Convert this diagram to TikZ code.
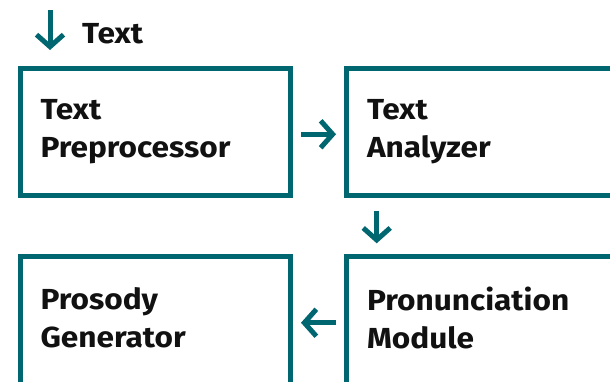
\documentclass[tikz,border=0pt]{standalone}
\usepackage{fontspec}
\setmainfont[FakeStretch=1.09]{Fira Sans}
\usetikzlibrary{arrows.meta,calc}
\definecolor{teal}{HTML}{006670}
\definecolor{ink}{HTML}{111111}
\tikzset{
  box/.style={draw=teal, line width=5pt, line join=miter, rectangle, anchor=north west,
    minimum width=270pt, minimum height=127.5pt, text width=229pt, inner xsep=20.5pt, inner ysep=0pt,
    align=left, text=ink, font=\fontsize{29}{38}\selectfont\bfseries},
  flow/.style={draw=teal, line width=5pt, -{Straight Barb[length=12pt,width=27pt,line width=5pt]}},
  lbl/.style={text=ink, font=\fontsize{29}{38}\selectfont\bfseries, inner sep=0pt, anchor=base west}
}
\newcommand{\tl}[2]{\rule{0pt}{20pt}#1\\#2\rule[-6pt]{0pt}{6pt}}
\begin{document}
\begin{tikzpicture}[x=1pt,y=-1pt]
\useasboundingbox (0,0) rectangle (610,381);
\node[box] (b1) at (17.5,65.5) {\tl{Text}{Preprocessor}};
\node[box] (b2) at (344,65.5) {\tl{Text}{Analyzer}};
\node[box] (b3) at (17.5,254) {\tl{Prosody}{Generator}};
\node[box] (b4) at (344,254) {\tl{Pronunciation}{Module}};
\coordinate (in) at (50,10);
\node[lbl] (intxt) at (82,43) {Text};
\draw[flow, shorten >=15.5pt] (in) -- (in |- b1.north);
\draw[flow, shorten <=8.5pt, shorten >=8pt] ([yshift=-2.5pt]b1.east) -- ([yshift=-2.5pt]b2.west);
\draw[flow, shorten <=12.5pt, shorten >=10.7pt] ($(b2.south west)+(32.7,0)$) -- ($(b4.north west)+(32.7,0)$);
\draw[flow, shorten <=8pt, shorten >=8.5pt] ([yshift=-2.5pt]b4.west) -- ([yshift=-2.5pt]b3.east);
\end{tikzpicture}
\end{document}
